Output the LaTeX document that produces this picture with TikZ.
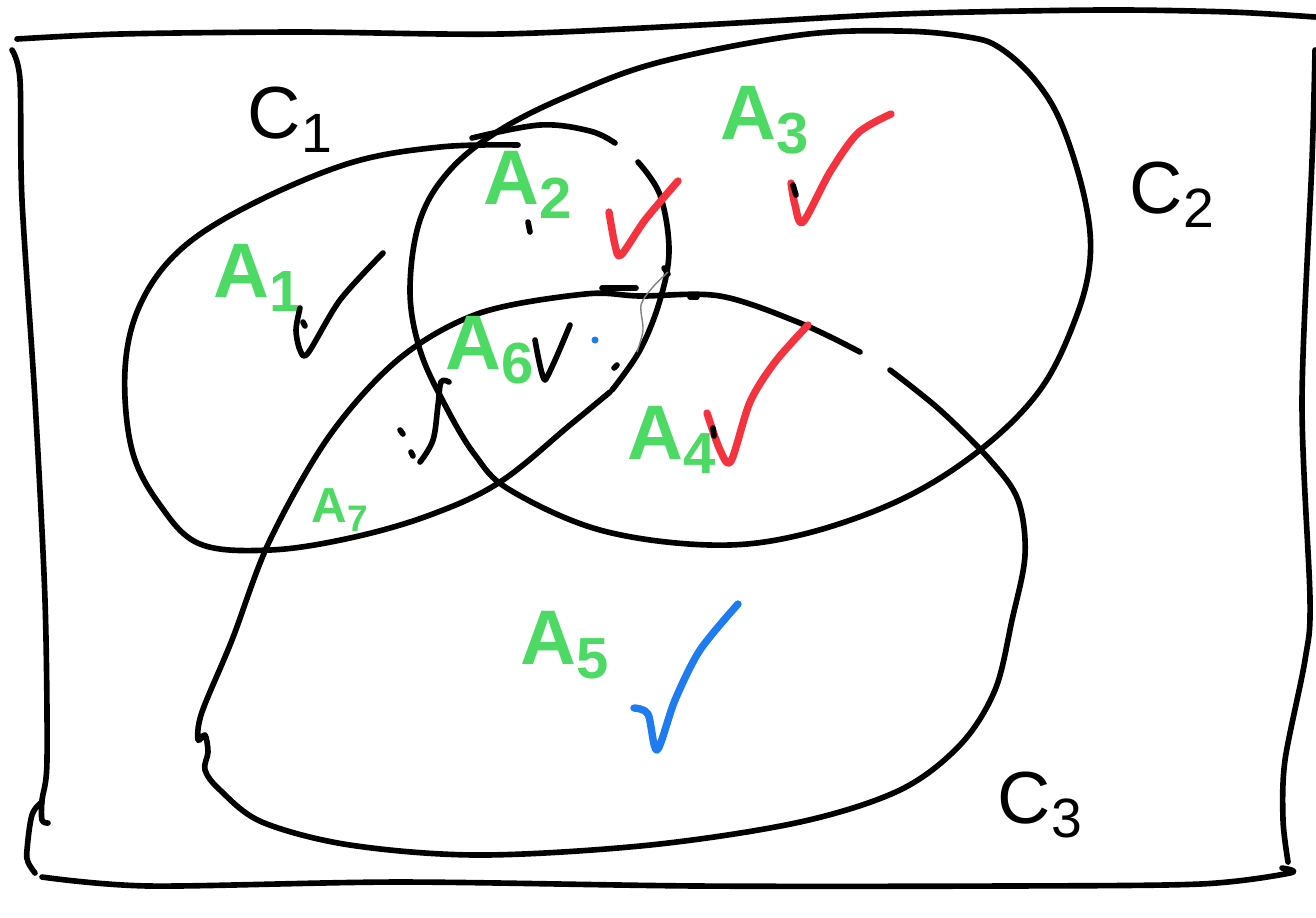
\documentclass[tikz,border=0pt]{standalone}
\usepackage{fontspec}
\setsansfont{Liberation Sans}
\usepackage{tikz}
\definecolor{penGreen}{HTML}{4CD964}
\definecolor{penRed}{HTML}{F5333F}
\definecolor{penBlue}{HTML}{1E7BF0}
\newcommand{\sublbl}[2]{#1\raisebox{-0.35ex}{\scalebox{0.75}{#2}}}

\begin{document}
\begin{tikzpicture}[x=0.01cm, y=-0.01cm,
    ink/.style={line width=1.6pt, line cap=round, line join=round},
    tick/.style={line width=2.1pt, line cap=round, line join=round},
    setlbl/.style={font=\sffamily\fontsize{21}{21}\selectfont, inner sep=0pt},
    reglbl/.style={font=\sffamily\bfseries\fontsize{22}{22}\selectfont, text=penGreen, inner sep=0pt}]
    \useasboundingbox (0,0) rectangle (1316,917);
    % frame
    \draw[ink] plot[smooth, tension=0.5] coordinates
        {(17,39) (120,34) (300,32) (500,34) (700,25) (900,14) (1100,10) (1230,12) (1315,17)};
    \draw[ink] plot[smooth, tension=0.5] coordinates
        {(12,50) (20,80) (22,200) (35,400) (45,600) (47,760) (42,800) (42,820) (48,823)};
    \draw[ink] plot[smooth, tension=0.6] coordinates
        {(42,802) (32,815) (27,850) (28,862) (35,873)};
    \draw[ink] plot[smooth, tension=0.5] coordinates
        {(42,877) (150,886) (400,882) (700,886) (1000,886) (1200,884) (1290,873) (1282,868)};
    \draw[ink] plot[smooth, tension=0.5] coordinates
        {(1315,50) (1312,160) (1302,400) (1310,600) (1305,660) (1285,760) (1283,820) (1288,862)};
    % C1
    \draw[ink] plot[smooth, tension=0.6] coordinates
        {(610,392) (570,425) (500,482) (430,515) (350,538) (270,550) (200,544) (160,505)
         (132,450) (125,370) (140,305) (180,250) (250,205) (350,163) (440,147) (518,145)};
    \draw[ink] plot[smooth, tension=0.6] coordinates {(472,138) (540,125) (590,131) (615,143)};
    \draw[ink] plot[smooth, tension=0.6] coordinates
        {(638,162) (660,195) (669,250) (660,300) (640,350) (612,390)};
    \draw[ink] (614,368) -- (617,365);
    % C2
    \draw[ink] plot[smooth cycle, tension=0.6] coordinates
        {(410,290) (420,220) (450,170) (500,130) (570,95) (660,62) (800,35) (900,31) (968,37)
         (1000,48) (1035,80) (1062,125) (1085,200) (1090,260) (1075,320) (1040,390) (980,450)
         (900,500) (800,535) (710,545) (600,530) (510,490) (475,455) (445,405) (420,350)};
    % C3
    \draw[ink] plot[smooth, tension=0.55] coordinates
        {(860,352) (800,323) (720,296) (640,296) (585,294) (480,313) (400,358) (330,435)
         (270,540) (232,640) (202,712) (198,740) (205,735) (208,752) (205,770) (220,790)
         (262,822) (350,845) (480,855) (650,845) (800,822) (900,790) (960,745) (995,690)
         (1012,620) (1025,555) (1018,500) (990,460) (940,410) (890,370)};
    \draw[ink] (602,288) -- (636,288);
    % stray pen strokes
    \draw[ink] plot[smooth, tension=0.6] coordinates {(449,382) (441,382) (438,405) (433,440) (420,462)};
    \draw[ink] (528,222) -- (530,232);
    \draw[ink] (400,430) -- (403,434);
    \draw[ink] (411,452) -- (413,456);
    \draw[ink] (664,268) -- (668,274);
    \draw[ink] (690,297) -- (697,297);
    \draw[gray, line width=0.4pt] plot[smooth] coordinates {(668,272) (652,288) (641,305) (643,330) (637,352)};
    \fill[penBlue] (595,340) circle (1pt);
    % set names
    \node[setlbl] (c1) at (290,120) {\sublbl{C}{1}};
    \node[setlbl] (c2) at (1172,195) {\sublbl{C}{2}};
    \node[setlbl] (c3) at (1040,805) {\sublbl{C}{3}};
    % regions
    \node[reglbl] (a1) at (258,278) {\sublbl{A}{1}};
    \node[reglbl] (a2) at (528,185) {\sublbl{A}{2}};
    \node[reglbl] (a3) at (765,120) {\sublbl{A}{3}};
    \node[reglbl] (a4) at (672,440) {\sublbl{A}{4}};
    \node[reglbl] (a5) at (565,645) {\sublbl{A}{5}};
    \node[reglbl] (a6) at (490,350) {\sublbl{A}{6}};
    \node[reglbl, font=\sffamily\bfseries\fontsize{14}{14}\selectfont] (a7) at (340,510) {\sublbl{A}{7}};
    % ticks
    \draw[ink] plot[smooth, tension=0.5] coordinates {(300,308) (296,330) (300,350) (308,353) (340,300) (383,253)};
    \draw[ink] (303,322) -- (305,326);
    \draw[ink] plot[smooth, tension=0.3] coordinates {(535,340) (545,380) (570,325)};
    \draw[tick, penRed] plot[smooth, tension=0.5] coordinates {(609,212) (615,245) (621,255) (645,220) (678,181)};
    \draw[tick, penRed] plot[smooth, tension=0.5] coordinates {(791,183) (795,205) (803,222) (830,172) (858,133) (891,114)};
    \draw[tick, penRed] plot[smooth, tension=0.5] coordinates {(707,413) (720,450) (731,461) (750,402) (775,362) (808,325)};
    \draw[tick, penBlue] plot[smooth, tension=0.5] coordinates {(634,708) (648,714) (657,750) (675,700) (700,650) (738,604)};
    \draw[ink] (793,185) -- (796,195);
    \draw[ink] (713,428) -- (714,436);
\end{tikzpicture}
\end{document}
